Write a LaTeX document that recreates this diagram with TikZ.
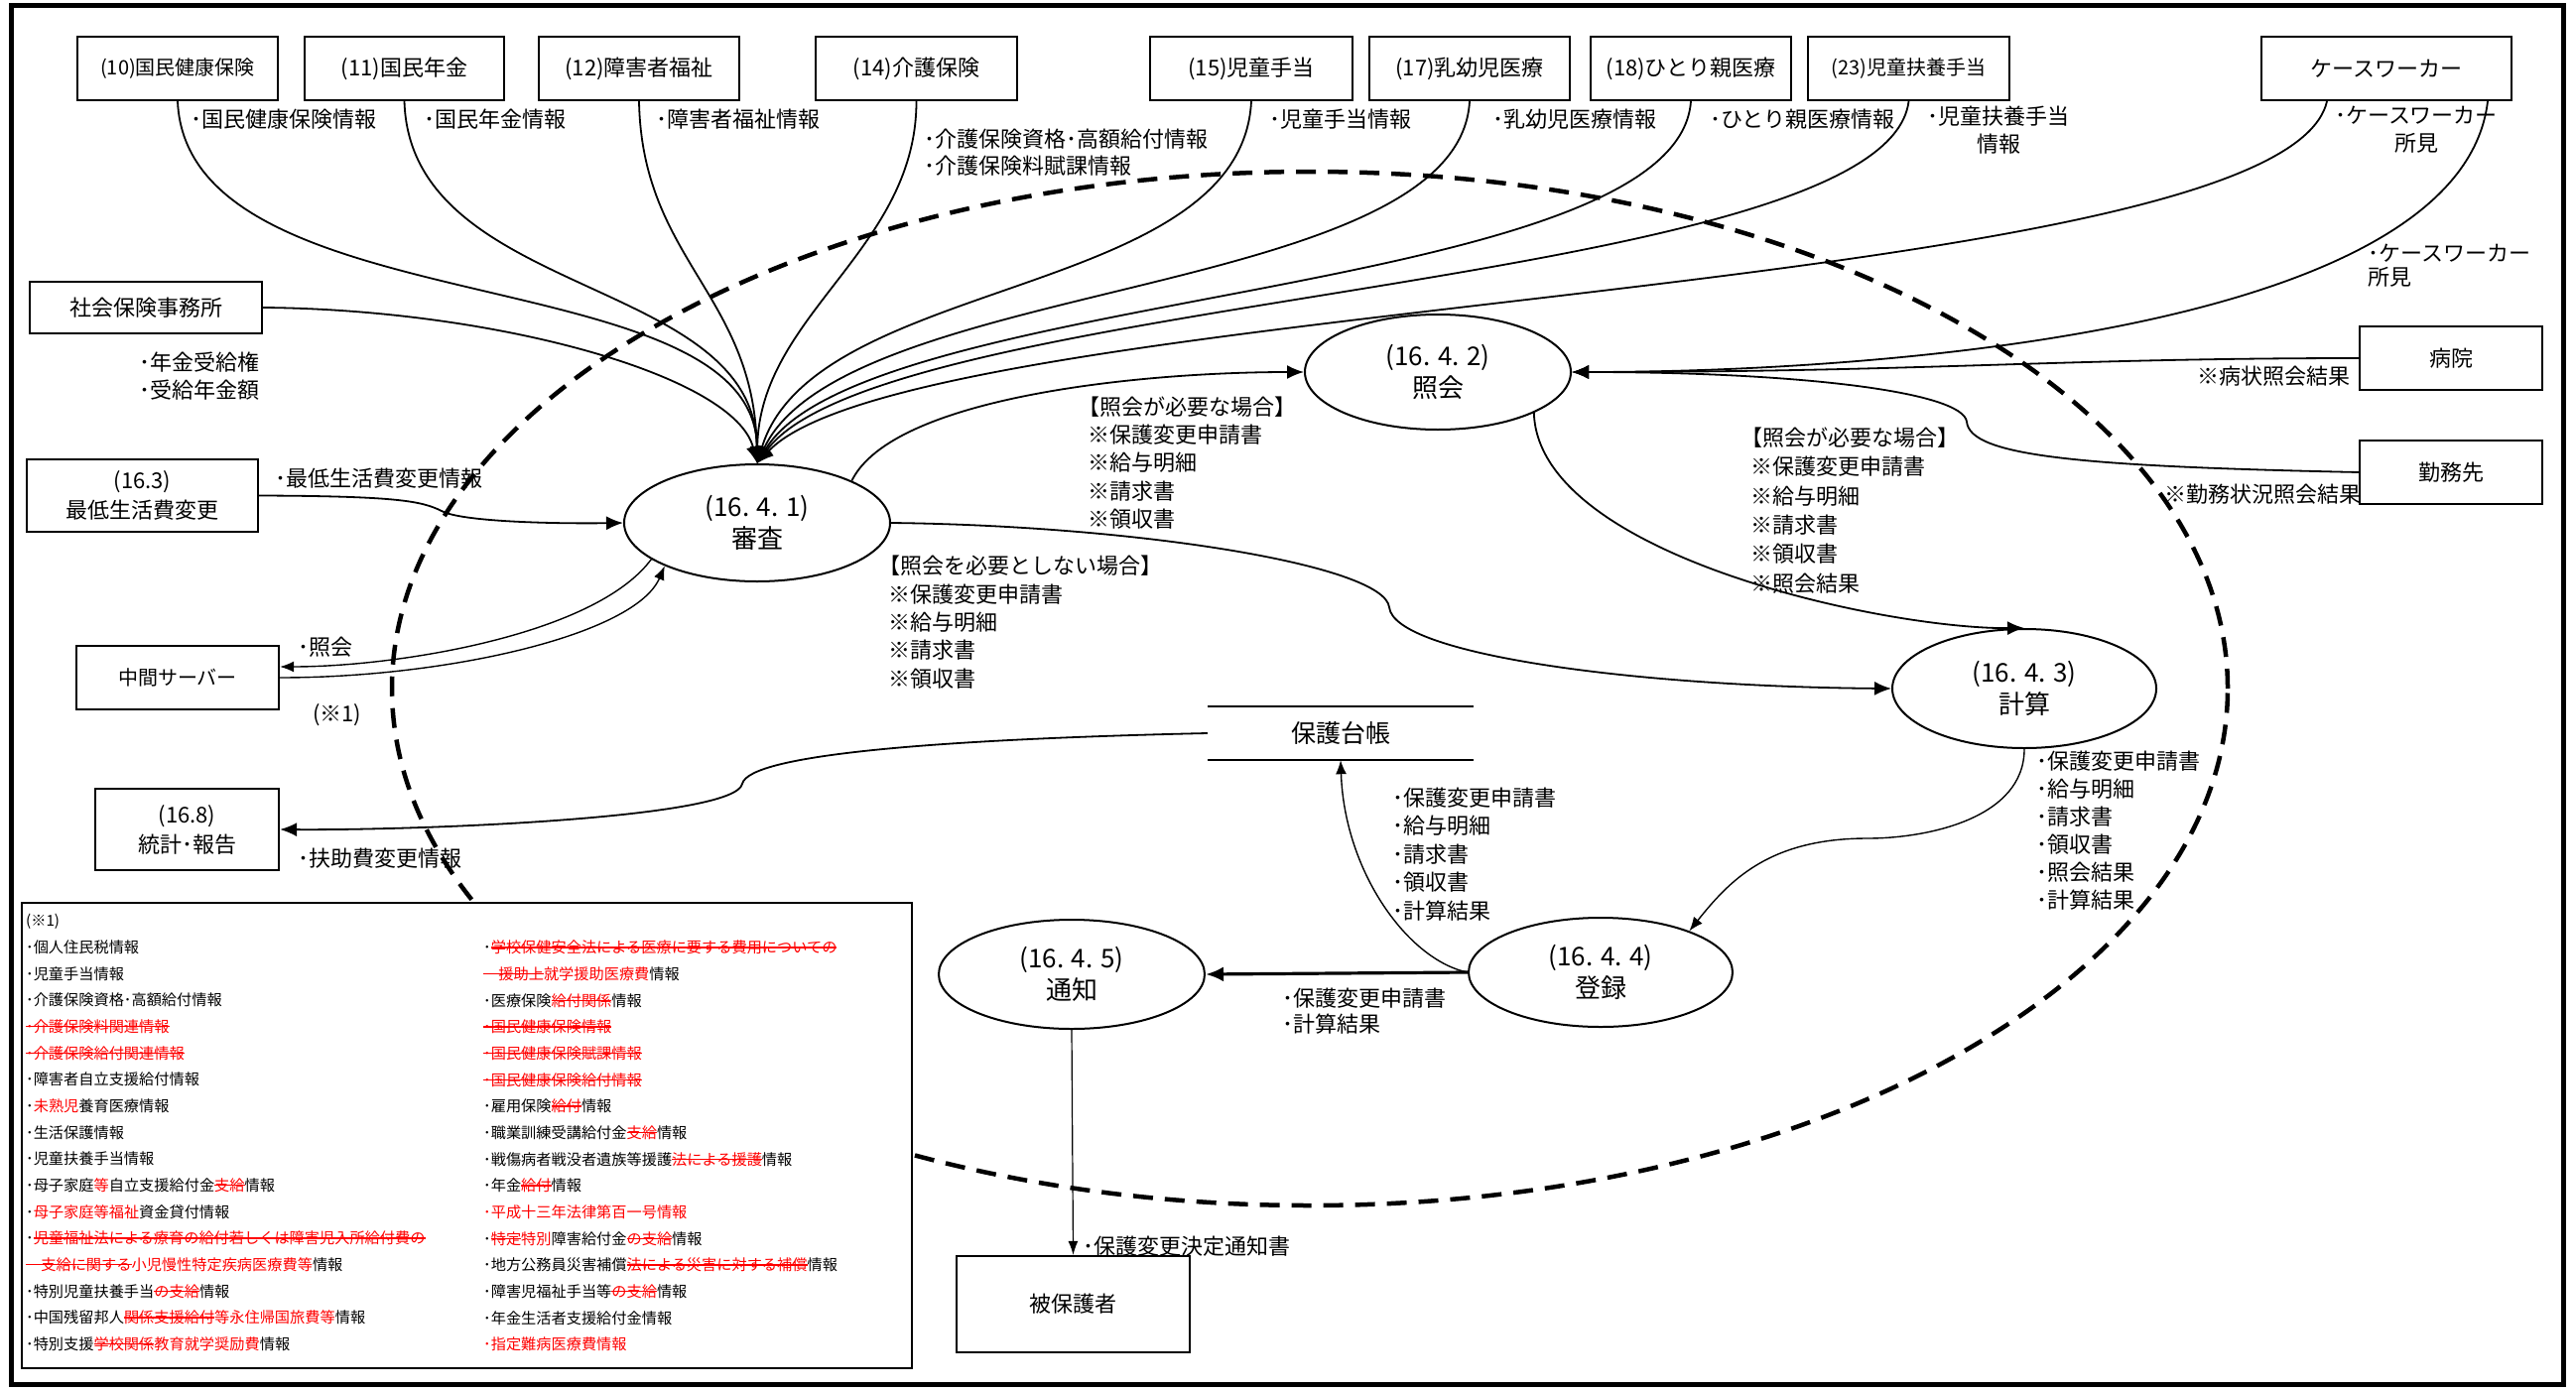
\documentclass[tikz,border=0pt]{standalone}
\usepackage{fontspec}
\setmainfont{Noto Sans CJK JP}
\usetikzlibrary{shapes.geometric,arrows.meta}
\newcommand\redt[1]{\textcolor{red}{#1}}
\newcommand\strk[1]{\textcolor{red}{\setbox0=\hbox{#1}\rlap{\vrule height .43em depth -.33em width \wd0}\box0}}
\newcommand\lbk{\kern-.42em}
\begin{document}
\begin{tikzpicture}[x=1pt,y=-1pt,
 box/.style={draw, line width=2.2pt, fill=white, inner sep=0pt, align=center, font=\fontsize{22}{30}\selectfont},
 proc/.style={ellipse, draw, line width=2pt, fill=white, inner sep=0pt, align=center, font=\fontsize{26}{32}\selectfont},
 lbl/.style={inner sep=0pt, align=left, anchor=west, font=\fontsize{22}{28.4}\selectfont},
 clbl/.style={inner sep=0pt, align=center, font=\fontsize{22}{28}\selectfont},
 flow/.style={line width=1.8pt, -{Latex[length=17pt,width=14pt]}},
 thinflow/.style={line width=1.4pt, -{Latex[length=14pt,width=11pt]}},
 boldflow/.style={line width=3.2pt, -{Latex[length=18pt,width=15pt]}},
 notetxt/.style={inner sep=0pt, align=left, anchor=west, font=\fontsize{15.2}{26.67}\selectfont},
 storeline/.style={line width=2.2pt},
 frameline/.style={line width=5pt},
 boundary/.style={line width=4.5pt, dash pattern=on 20pt off 12pt}
]
\useasboundingbox (0,0) rectangle (2596,1402);
\fill[white] (0,0) rectangle (2596,1402);
\draw[frameline] (11,6) rectangle (2583,1395);

% system boundary
\draw[boundary] (1320,694) ellipse [x radius=925pt, y radius=521pt];

% labels
\node[lbl] (l10) at (192,120) {･国民健康保険情報};
\node[lbl] (l11) at (427,120) {･国民年金情報};
\node[lbl] (l12) at (661,120) {･障害者福祉情報};
\node[lbl, font=\fontsize{22}{27}\selectfont] (l14) at (931,153.5) {･介護保険資格･高額給付情報\\･介護保険料賦課情報};
\node[lbl] (l15) at (1279,120) {･児童手当情報};
\node[lbl] (l17) at (1504,120) {･乳幼児医療情報};
\node[lbl] (l18) at (1723,120) {･ひとり親医療情報};
\node[clbl] (l23) at (2014,131) {･児童扶養手当\\情報};
\node[clbl] (lcw) at (2435,131) {･ケースワーカー\\所見};
\node[lbl, font=\fontsize{22}{24}\selectfont] (lcw2) at (2386,268) {･ケースワーカー\\所見};
\node[lbl] (lnen) at (140,379) {･年金受給権\\･受給年金額};
\node[lbl] (lsai) at (277,482) {･最低生活費変更情報};
\node[lbl] (lsho) at (300,652) {･照会};
\node[lbl] (lk1) at (315,721) {(※1)};
\node[lbl] (lfu) at (300,865) {･扶助費変更情報};
\node[lbl] (lreq1) at (1096,466.5) {\lbk【照会が必要な場合】\\※保護変更申請書\\※給与明細\\※請求書\\※領収書};
\node[lbl] (lnoreq) at (895,627) {\lbk【照会を必要としない場合】\\※保護変更申請書\\※給与明細\\※請求書\\※領収書};
\node[lbl, font=\fontsize{22}{29.4}\selectfont] (lreq2) at (1764,514.5) {\lbk【照会が必要な場合】\\※保護変更申請書\\※給与明細\\※請求書\\※領収書\\※照会結果};
\node[lbl, anchor=east] (lbyo) at (2369,379) {※病状照会結果};
\node[lbl] (lkin) at (2181,498) {※勤務状況照会結果};
\node[lbl, font=\fontsize{22}{28}\selectfont] (lkei) at (2052,837) {･保護変更申請書\\･給与明細\\･請求書\\･領収書\\･照会結果\\･計算結果};
\node[lbl] (ltor) at (1403,861) {･保護変更申請書\\･給与明細\\･請求書\\･領収書\\･計算結果};
\node[lbl, font=\fontsize{22}{26}\selectfont] (ltsu) at (1292,1019.5) {･保護変更申請書\\･計算結果};
\node[lbl] (lhi) at (1091,1256) {･保護変更決定通知書};

% external boxes
\node[box, font=\fontsize{20}{26}\selectfont, minimum width=202pt, minimum height=64pt] (b10) at (179,69) {(10)国民健康保険};
\node[box, minimum width=201pt, minimum height=64pt] (b11) at (407.5,69) {(11)国民年金};
\node[box, minimum width=202pt, minimum height=64pt] (b12) at (644,69) {(12)障害者福祉};
\node[box, minimum width=203pt, minimum height=64pt] (b14) at (923.5,69) {(14)介護保険};
\node[box, minimum width=204pt, minimum height=64pt] (b15) at (1261,69) {(15)児童手当};
\node[box, minimum width=202pt, minimum height=64pt] (b17) at (1481,69) {(17)乳幼児医療};
\node[box, minimum width=202pt, minimum height=64pt] (b18) at (1704,69) {(18)ひとり親医療};
\node[box, font=\fontsize{20}{26}\selectfont, minimum width=203pt, minimum height=64pt] (b23) at (1923.5,69) {(23)児童扶養手当};
\node[box, minimum width=252pt, minimum height=64pt] (bcw) at (2405,69) {ケースワーカー};
\node[box, minimum width=234pt, minimum height=52pt] (shakai) at (147,310) {社会保険事務所};
\node[box, minimum width=233pt, minimum height=73pt] (b163) at (143.5,499.5) {(16.3)\\最低生活費変更};
\node[box, font=\fontsize{20}{26}\selectfont, minimum width=204pt, minimum height=64pt] (chukan) at (179,683) {中間サーバー};
\node[box, minimum width=185pt, minimum height=82pt] (b168) at (188.5,836) {(16.8)\\統計･報告};
\node[box, minimum width=184pt, minimum height=64pt] (byoin) at (2470,361) {病院};
\node[box, minimum width=184pt, minimum height=64pt] (kinmu) at (2470,476) {勤務先};
\node[box, minimum width=235pt, minimum height=97pt] (hihogo) at (1081.5,1314.5) {被保護者};

% processes
\node[proc, minimum width=268pt, minimum height=118pt] (shinsa) at (763,527) {(16. 4. 1)\\審査};
\node[proc, minimum width=268pt, minimum height=116pt] (shokai) at (1449,375) {(16. 4. 2)\\照会};
\node[proc, minimum width=266pt, minimum height=120pt] (keisan) at (2040,694) {(16. 4. 3)\\計算};
\node[proc, minimum width=266pt, minimum height=110pt] (toroku) at (1613,980) {(16. 4. 4)\\登録};
\node[proc, minimum width=268pt, minimum height=110pt] (tsuchi) at (1080,982) {(16. 4. 5)\\通知};

% data store
\node[minimum width=268pt, minimum height=54pt, inner sep=0pt, font=\fontsize{25}{30}\selectfont] (daicho) at (1351,739) {保護台帳};
\draw[storeline] (daicho.north west) -- (daicho.north east);
\draw[storeline] (daicho.south west) -- (daicho.south east);

% note box
\node[draw, line width=2pt, fill=white, minimum width=897pt, minimum height=469pt, inner sep=0pt] (note) at (470.5,1144.5) {};
\node[notetxt] (nl) at (26,1141.5) {(※1)\\
･個人住民税情報\\
･児童手当情報\\
･介護保険資格･高額給付情報\\
\strk{･介護保険料関連情報}\\
\strk{･介護保険給付関連情報}\\
･障害者自立支援給付情報\\
･\redt{未熟児}養育医療情報\\
･生活保護情報\\
･児童扶養手当情報\\
･母子家庭\redt{等}自立支援給付金\strk{支給}情報\\
･\redt{母子家庭等福祉}資金貸付情報\\
･\strk{児童福祉法による療育の給付若しくは障害児入所給付費の}\\
\strk{　支給に関する}\redt{小児慢性特定疾病医療費等}情報\\
･特別児童扶養手当\strk{の支給}情報\\
･中国残留邦人\strk{関係支援給付}\redt{等永住帰国旅費等}情報\\
･特別支援\strk{学校関係}\redt{教育就学奨励費}情報};
\node[notetxt] (nr) at (487,1155) {･\strk{学校保健安全法による医療に要する費用についての}\\
\strk{　援助上}\redt{就学援助医療費}情報\\
･医療保険\strk{給付関係}情報\\
\strk{･国民健康保険情報}\\
\strk{･国民健康保険賦課情報}\\
\strk{･国民健康保険給付情報}\\
･雇用保険\strk{給付}情報\\
･職業訓練受講給付金\strk{支給}情報\\
･戦傷病者戦没者遺族等援護\strk{法による援護}情報\\
･年金\strk{給付}情報\\
\redt{･平成十三年法律第百一号情報}\\
･\strk{特定}\redt{特別}障害給付金\strk{の支給}情報\\
･地方公務員災害補償\strk{法による災害に対する補償}情報\\
･障害児福祉手当等\strk{の支給}情報\\
･年金生活者支援給付金情報\\
\redt{･指定難病医療費情報}};

% flows into 審査
\draw[flow] (b10.south) .. controls +(10,230) and +(-2,-210) .. (shinsa.north);
\draw[flow] (b11.south) .. controls +(6,200) and +(-2,-190) .. (shinsa.north);
\draw[flow] (b12.south) .. controls +(3,160) and +(-3,-170) .. (shinsa.north);
\draw[flow] (b14.south) .. controls +(0,150) and +(2,-150) .. (shinsa.north);
\draw[flow] (b15.south) .. controls +(-10,200) and +(57,-190) .. (shinsa.north);
\draw[flow] (b17.south) .. controls +(-11,200) and +(87,-188) .. (shinsa.north);
\draw[flow] (b18.south) .. controls +(-14,200) and +(107,-178) .. (shinsa.north);
\draw[flow] (b23.south) .. controls +(-23,190) and +(127,-173) .. (shinsa.north);
\draw[flow] ([xshift=-60pt]bcw.south) .. controls +(-45,200) and +(157,-168) .. (shinsa.north);
\draw[flow] (shakai.east) .. controls +(236,2) and +(-22,-88) .. (shinsa.north);
\draw[flow] (b163.east) .. controls (400,500) and (425,505) .. (445,515) .. controls (465,526) and (560,528) .. (shinsa.west);
\draw[thinflow] (shinsa.199) .. controls (600,640) and (400,672) .. ([yshift=11pt]chukan.east);
\draw[thinflow] (chukan.east) .. controls (450,683) and (640,640) .. (shinsa.205);

% flows into 照会
\draw[flow] (shinsa.24) .. controls (900,400) and (1150,375) .. (shokai.west);
\draw[flow] ([xshift=102pt]bcw.south) .. controls +(-27,229) and +(316,0) .. (shokai.east);
\draw[flow] (byoin.west) .. controls +(-300,0) and +(350,0) .. (shokai.east);
\draw[flow] (kinmu.west) .. controls +(-280,-6) and +(3,35) .. (1982,425) .. controls +(-4,-30) and +(230,0) .. (shokai.east);

% flows into 計算
\draw[flow] (shinsa.east) .. controls (1150,530) and (1395,570) .. (1400,612) .. controls (1405,660) and (1650,692) .. (keisan.west);
\draw[flow] (shokai.-23) .. controls (1550,560) and (1900,634) .. (keisan.north);

% downstream
\draw[thinflow] (keisan.south) .. controls +(0,70) and +(60,0) .. (1882,845) .. controls +(-100,0) and +(40,-50) .. (toroku.25);
\draw[boldflow] (toroku.west) -- (tsuchi.east);
\draw[thinflow] (toroku.west) .. controls (1420,968) and (1355,880) .. (daicho.south);
\draw[flow] (daicho.west) .. controls (950,745) and (755,760) .. (748,790) .. controls (741,825) and (420,837) .. (b168.east);
\draw[line width=1.2pt, -{Latex[length=14pt,width=10pt]}] (tsuchi.south) -- (hihogo.north);
\end{tikzpicture}
\end{document}
